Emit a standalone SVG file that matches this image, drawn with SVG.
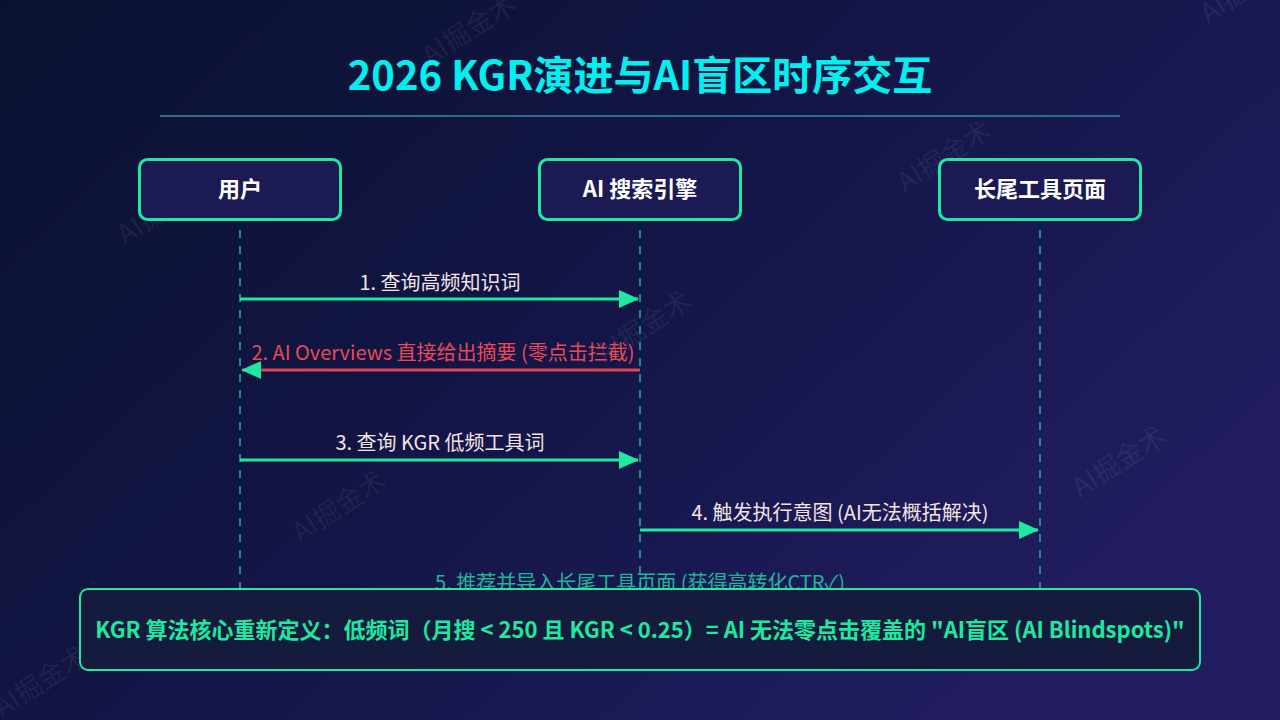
<svg xmlns="http://www.w3.org/2000/svg" width="1280" height="720" viewBox="0 0 1280 720">
<defs>
<linearGradient id="bg" x1="0" y1="0" x2="1" y2="0.6">
<stop offset="0" stop-color="#0b1230"/>
<stop offset="0.5" stop-color="#121545"/>
<stop offset="1" stop-color="#211d60"/>
</linearGradient>
<marker id="ah" viewBox="0 0 20 20" refX="19" refY="10" markerWidth="20" markerHeight="20" markerUnits="userSpaceOnUse" orient="auto">
<path d="M0,1 L20,10 L0,19 Z" fill="#1de9a0"/>
</marker>
<style>
.wm{font-family:"Noto Sans CJK SC","Noto Sans",sans-serif;font-size:27px;fill:#ffffff;fill-opacity:0.07}
.box{fill:#1c1a55;stroke:#1de9a0;stroke-width:3}
.nt{font-family:"Noto Sans CJK SC","Noto Sans",sans-serif;font-size:22px;font-weight:bold;fill:#ffffff;text-anchor:middle}
.life{stroke:#1f8f84;stroke-width:2;stroke-dasharray:8 8}
.msg{stroke:#1de9a0;stroke-width:3;fill:none}
.lbl{font-family:"Noto Sans CJK SC","Noto Sans",sans-serif;font-size:20px;fill:#f3e3e3;text-anchor:middle}
</style>
</defs>
<rect width="1280" height="720" fill="url(#bg)"/>
<g id="watermarks">
<text class="wm" transform="translate(430,66) rotate(-33)">AI掘金术</text>
<text class="wm" transform="translate(125,245) rotate(-33)">AI掘金术</text>
<text class="wm" transform="translate(905,193) rotate(-33)">AI掘金术</text>
<text class="wm" transform="translate(605,363) rotate(-33)">AI掘金术</text>
<text class="wm" transform="translate(300,543) rotate(-33)">AI掘金术</text>
<text class="wm" transform="translate(1080,498) rotate(-33)">AI掘金术</text>
<text class="wm" transform="translate(780,663) rotate(-33)">AI掘金术</text>
<text class="wm" transform="translate(2,718) rotate(-33)">AI掘金术</text>
<text class="wm" transform="translate(1208,24) rotate(-33)">AI掘金术</text>
</g>
<g id="title">
<text x="640" y="90" font-family="'Noto Sans CJK SC','Noto Sans',sans-serif" font-size="40" font-weight="bold" fill="#00f0f0" text-anchor="middle">2026 KGR演进与AI盲区时序交互</text>
<line x1="160" y1="116" x2="1120" y2="116" stroke="#2b6f8c" stroke-width="2"/>
</g>
<g id="lifelines">
<line class="life" x1="240" y1="230" x2="240" y2="592"/>
<line class="life" x1="640" y1="230" x2="640" y2="592"/>
<line class="life" x1="1040" y1="230" x2="1040" y2="592"/>
</g>
<g id="node-user">
<rect class="box" x="139.5" y="159.5" width="201" height="60" rx="8"/>
<text class="nt" x="240" y="197">用户</text>
</g>
<g id="node-ai">
<rect class="box" x="539.5" y="159.5" width="201" height="60" rx="8"/>
<text class="nt" x="640" y="197">AI 搜索引擎</text>
</g>
<g id="node-page">
<rect class="box" x="939.5" y="159.5" width="201" height="60" rx="8"/>
<text class="nt" x="1040" y="197">长尾工具页面</text>
</g>
<g id="connectors">
<line class="msg" x1="240" y1="299" x2="638" y2="299" marker-end="url(#ah)"/>
<text class="lbl" x="440" y="290">1. 查询高频知识词</text>
<line class="msg" x1="640" y1="370" x2="242" y2="370" marker-end="url(#ah)" style="stroke:#e0464f"/>
<text class="lbl" x="443" y="360" style="fill:#e84a55">2. AI Overviews 直接给出摘要 (零点击拦截)</text>
<line class="msg" x1="240" y1="460" x2="638" y2="460" marker-end="url(#ah)"/>
<text class="lbl" x="440" y="450">3. 查询 KGR 低频工具词</text>
<line class="msg" x1="640" y1="530" x2="1038" y2="530" marker-end="url(#ah)"/>
<text class="lbl" x="840" y="520">4. 触发执行意图 (AI无法概括解决)</text>
<text class="lbl" x="640" y="590" style="fill:#22b496">5. 推荐并导入长尾工具页面 (获得高转化CTR✓)</text>
</g>
<g id="summary">
<rect x="80" y="589" width="1120" height="81" rx="8" fill="#151b3d" stroke="#1de9a0" stroke-width="2"/>
<text x="640" y="638" font-family="'Noto Sans CJK SC','Noto Sans',sans-serif" font-size="22" font-weight="bold" fill="#1de9a0" text-anchor="middle">KGR 算法核心重新定义：低频词（月搜 &lt; 250 且 KGR &lt; 0.25）= AI 无法零点击覆盖的 "AI盲区 (AI Blindspots)"</text>
</g>
</svg>
